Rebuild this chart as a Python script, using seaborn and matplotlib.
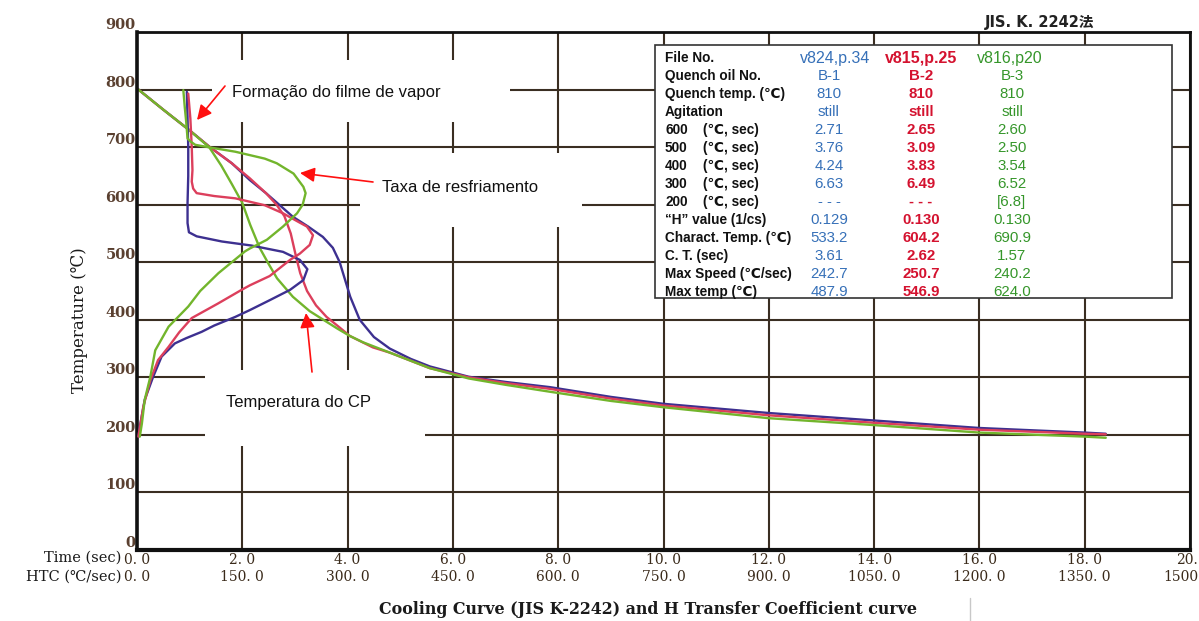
import matplotlib
matplotlib.use("Agg")
import matplotlib.pyplot as plt
import matplotlib.transforms as mtransforms
import seaborn as sns
from matplotlib.patches import Rectangle, FancyArrowPatch
from matplotlib.lines import Line2D

# ---------------- data ----------------
# Cooling curves: time (s) vs temperature (C)
time_b1 = [0.0, 0.5, 1.0, 1.37, 1.8, 2.14, 2.45, 2.7, 2.96, 3.25, 3.53, 3.72, 3.85, 3.95, 4.05, 4.23,
           4.5, 4.8, 5.2, 5.56, 6.3, 7.0, 7.84, 9.0, 10.0, 12.0, 14.0, 16.0, 18.0, 18.4]
temp_b1 = [802, 765, 729, 701, 672, 643, 620, 600, 579, 562, 544, 525, 500, 470, 440, 400,
           370, 350, 332, 319, 301, 292, 283, 266, 254, 238, 225, 212, 204, 202]

time_b2 = [0.0, 0.5, 1.0, 1.37, 1.8, 2.14, 2.45, 2.65, 2.8, 2.92, 3.02, 3.1, 3.23, 3.4, 3.6, 3.83,
           4.04, 4.48, 4.8, 5.56, 6.3, 7.0, 7.84, 9.0, 10.0, 12.0, 14.0, 16.0, 18.0, 18.4]
temp_b2 = [802, 765, 729, 701, 672, 646, 620, 600, 580, 550, 510, 481, 450, 425, 405, 388,
           372, 352, 343, 316, 300, 290, 280, 263, 251, 234, 221, 209, 202, 201]

time_b3 = [0.0, 0.5, 1.0, 1.37, 1.6, 1.8, 2.0, 2.15, 2.33, 2.5, 2.66, 2.96, 3.28, 3.54, 3.8, 4.04,
           4.29, 4.8, 5.56, 6.3, 7.0, 7.84, 9.0, 10.0, 12.0, 14.0, 16.0, 18.0, 18.4]
temp_b3 = [802, 765, 729, 700, 668, 636, 603, 565, 525, 497, 472, 440, 415, 400, 385, 372,
           361, 343, 316, 298, 287, 275, 259, 248, 229, 217, 204, 197, 195]

# Heat-transfer (cooling rate) curves: rate (C/sec) vs temperature (C)
htc_b1 = [71, 72, 73, 73, 72, 72, 74, 85, 121, 163, 208, 232, 242.7, 237, 218, 189, 161, 140, 110,
          92, 70, 54, 35, 23, 11, 4, 2]
thtc_b1 = [796, 750, 700, 650, 603, 568, 552, 545, 536, 529, 518, 504, 487.9, 469, 452, 434, 417,
           405, 390, 379, 368, 359, 336, 301, 261, 214, 197]

htc_b2 = [73, 76, 78, 79, 78, 80, 85, 110, 140, 182, 208, 230, 242, 250.7, 246, 232, 218, 189, 161,
          149, 115, 78, 60, 45, 30, 19, 9, 2]
thtc_b2 = [793, 750, 700, 660, 640, 628, 620, 615, 611, 599, 585, 570, 562, 546.9, 530, 515, 504,
           476, 460, 452, 428, 403, 378, 353, 330, 295, 249, 197]

htc_b3 = [66, 68, 70, 71, 72, 76, 83, 101, 140, 182, 199, 223, 237, 240.2, 236, 228, 208, 185, 161,
          154, 116, 90, 73, 45, 26, 19, 11, 7, 4]
thtc_b3 = [799, 770, 745, 730, 715, 710, 704, 700, 692, 680, 672, 654, 631, 620, 600, 585, 562,
           539, 524, 519, 481, 450, 423, 388, 347, 301, 261, 220, 197]

# Axis ticks / labels
y_ticks = [0, 100, 200, 300, 400, 500, 600, 700, 800, 900]
x_ticks = [0, 2, 4, 6, 8, 10, 12, 14, 16, 18, 20]
time_labels = ["0. 0", "2. 0", "4. 0", "6. 0", "8. 0", "10. 0", "12. 0", "14. 0", "16. 0", "18. 0", "20."]
htc_labels = ["0. 0", "150. 0", "300. 0", "450. 0", "600. 0", "750. 0", "900. 0", "1050. 0",
              "1200. 0", "1350. 0", "1500"]

# Table
row_labels = ["File No.", "Quench oil No.", "Quench temp. (℃)", "Agitation", "600", "500", "400",
              "300", "200", "“H” value (1/cs)", "Charact. Temp. (℃)", "C. T. (sec)",
              "Max Speed (℃/sec)", "Max temp (℃)"]
col_b1 = ["v824,p.34", "B-1", "810", "still", "2.71", "3.76", "4.24", "6.63", "- - -", "0.129",
          "533.2", "3.61", "242.7", "487.9"]
col_b2 = ["v815,p.25", "B-2", "810", "still", "2.65", "3.09", "3.83", "6.49", "- - -", "0.130",
          "604.2", "2.62", "250.7", "546.9"]
col_b3 = ["v816,p20", "B-3", "810", "still", "2.60", "2.50", "3.54", "6.52", "[6.8]", "0.130",
          "690.9", "1.57", "240.2", "624.0"]

C_BLUE = "#3d3090"
C_RED = "#dc3f5c"
C_GREEN = "#72b52c"
T_BLUE = "#3670b8"
T_RED = "#d4122f"
T_GREEN = "#35962a"

# ---------------- figure ----------------
sns.set_theme(style="white")
plt.rcParams["font.family"] = ["DejaVu Serif", "DejaVu Sans"]

W, H = 1199, 621
fig = plt.figure(figsize=(W / 100, H / 100), dpi=100)
fig.patch.set_facecolor("white")


def fx(x):
    return x / W


def fy(y):
    return 1 - y / H


ax = fig.add_axes([fx(137), fy(550), (1190 - 137) / W, (550 - 32) / H])
ax.set_facecolor("white")
ax.set_xlim(0, 20)
ax.set_ylim(0, 900)
ax.set_xticks(x_ticks)
ax.set_yticks(y_ticks)
ax.grid(True, color="#3a2e22", lw=1.5)
ax.set_axisbelow(True)
ax.tick_params(length=0)

ax.set_xticklabels([f"{a}\n{b}" for a, b in zip(time_labels, htc_labels)],
                   fontsize=10, color="#3a2a1a", linespacing=1.25)
ax.tick_params(axis="x", pad=2)
last = ax.get_xticklabels()[-1]
last.set_horizontalalignment("right")
last.set_transform(last.get_transform() + mtransforms.ScaledTranslation(8 / 100, 0, fig.dpi_scale_trans))
ax.set_yticklabels([str(v) for v in y_ticks], fontsize=10.5, color="#5a4030",
                   fontweight="bold", va="bottom")
ax.tick_params(axis="y", pad=1)

for side, lw in (("left", 2.6), ("bottom", 3.0), ("top", 2.0), ("right", 2.0)):
    ax.spines[side].set_color("#111111")
    ax.spines[side].set_linewidth(lw)

# cooling curves
for t, T, c in ((time_b1, temp_b1, C_BLUE), (time_b2, temp_b2, C_RED), (time_b3, temp_b3, C_GREEN)):
    sns.lineplot(x=t, y=T, ax=ax, color=c, lw=1.7, sort=False, estimator=None)

# HTC curves on the HTC scale (0-1500 spans same width)
ax2 = ax.twiny()
ax2.set_xlim(0, 1500)
ax2.set_ylim(0, 900)
ax2.set_xticks([])
for s in ax2.spines.values():
    s.set_visible(False)
for h, T, c in ((htc_b1, thtc_b1, C_BLUE), (htc_b2, thtc_b2, C_RED), (htc_b3, thtc_b3, C_GREEN)):
    sns.lineplot(x=h, y=T, ax=ax2, color=c, lw=1.7, sort=False, estimator=None)
ax2.set_xlabel("")

# axis labels
fig.text(fx(80), fy(320), "Temperature (℃)", rotation=90, ha="center", va="center",
         fontsize=12, color="#1a1a1a")
fig.text(fx(121), fy(558), "Time (sec)", ha="right", va="center", fontsize=10.5, color="#1a1a1a")
fig.text(fx(121), fy(577), "HTC (℃/sec)", ha="right", va="center", fontsize=10.5, color="#1a1a1a")
fig.text(fx(648), fy(610), "Cooling Curve (JIS K-2242) and H Transfer Coefficient curve",
         ha="center", va="center", fontsize=11.4, fontweight="bold", color="#1a1a1a")
fig.text(fx(1040), fy(22), "JIS. K. 2242法", ha="center", va="center", fontsize=10.5,
         fontweight="bold", family=["DejaVu Sans", "Noto Sans CJK JP"], color="#222222")
fig.add_artist(Line2D([fx(970), fx(970)], [fy(598), fy(621)], color="#c8c8c8", lw=1))

# white annotation boxes
def wbox(x0, y0, x1, y1, edge="none", lw=0):
    fig.add_artist(Rectangle((fx(x0), fy(y1)), (x1 - x0) / W, (y1 - y0) / H,
                             transform=fig.transFigure, facecolor="white", edgecolor=edge,
                             lw=lw, zorder=5))


wbox(212, 60, 510, 122)
wbox(360, 153, 582, 227)
wbox(205, 370, 425, 446)

sans = ["Liberation Sans", "DejaVu Sans"]
fig.text(fx(232), fy(92), "Formação do filme de vapor", ha="left", va="center", fontsize=12,
         family=sans, color="#111111", zorder=6)
fig.text(fx(382), fy(187), "Taxa de resfriamento", ha="left", va="center", fontsize=12,
         family=sans, color="#111111", zorder=6)
fig.text(fx(226), fy(402), "Temperatura do CP", ha="left", va="center", fontsize=12,
         family=sans, color="#111111", zorder=6)


def arrow(x0, y0, x1, y1):
    fig.add_artist(FancyArrowPatch((fx(x0), fy(y0)), (fx(x1), fy(y1)), transform=fig.transFigure,
                                   arrowstyle="-|>", mutation_scale=22, color="#ff1010", lw=1.2,
                                   shrinkA=0, shrinkB=0, zorder=7))


arrow(225, 86, 197, 120)
arrow(373, 182, 300, 173)
arrow(312, 372, 306, 313)

# data table
wbox(655, 45, 1172, 298, edge="#333333", lw=1.2)
row_y = [58 + 18.0 * i for i in range(len(row_labels))]
for i, (lab, y) in enumerate(zip(row_labels, row_y)):
    fig.text(fx(665), fy(y), lab, ha="left", va="center", fontsize=9.8, fontweight="bold",
             family=sans, color="#111111", zorder=6)
    if 4 <= i <= 8:
        fig.text(fx(703), fy(y), "(℃, sec)", ha="left", va="center", fontsize=9.8,
                 fontweight="bold", family=sans, color="#111111", zorder=6)
    hs = 11.5 if i == 0 else 10.8
    fig.text(fx(835 if i == 0 else 829), fy(y), col_b1[i], ha="center", va="center", fontsize=hs,
             family=sans, color=T_BLUE, zorder=6)
    fig.text(fx(921), fy(y), col_b2[i], ha="center", va="center", fontsize=hs,
             family=sans, color=T_RED, fontweight="bold", zorder=6)
    fig.text(fx(1010 if i == 0 else 1012), fy(y), col_b3[i], ha="center", va="center",
             fontsize=hs, family=sans, color=T_GREEN, zorder=6)

fig.savefig("out.png", dpi=100, facecolor="white")
